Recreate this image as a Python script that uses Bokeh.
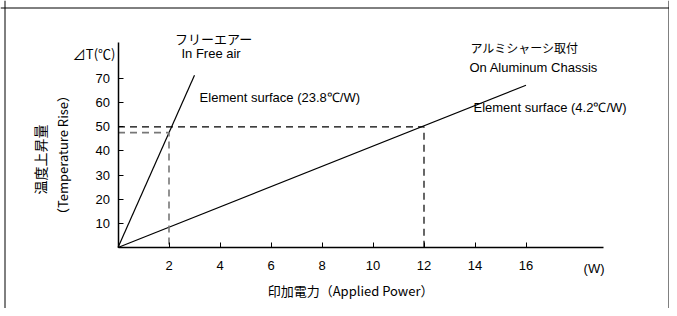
from bokeh.plotting import figure
from bokeh.models import Range1d, FixedTicker, Label, Span
from bokeh.embed import file_html
from bokeh.resources import INLINE
import math

# ---- data ----
free_air_power = [0, 3.0]
free_air_temp = [0, 71.4]          # 23.8 C/W
alu_power = [0, 16.0]
alu_temp = [0, 67.2]               # 4.2 C/W

ref_black_x = [0, 12, 12]          # dashed guide at 50 C / 12 W
ref_black_y = [50, 50, 0]
ref_gray_x = [0, 2, 2]             # dashed guide at 47.6 C / 2 W
ref_gray_y = [47.6, 47.6, 0]

x_ticks = [2, 4, 6, 8, 10, 12, 14, 16]
y_ticks = [10, 20, 30, 40, 50, 60, 70]
x_axis_end = 19.05
y_axis_end = 85

JP = "Noto Sans CJK JP"
LAT = "Liberation Sans"

W, H = 669, 308
PX_X, PX_Y = 25.5, 2.414
X0 = -117.5 / PX_X
X1 = X0 + W / PX_X
Y1 = 247 / PX_Y
Y0 = Y1 - H / PX_Y

p = figure(width=W, height=H, output_backend="svg", toolbar_location=None,
           x_range=Range1d(X0, X1), y_range=Range1d(Y0, Y1),
           min_border_left=0, min_border_right=0, min_border_top=0,
           min_border_bottom=0)
p.outline_line_color = None
p.grid.visible = False
p.background_fill_color = "white"
p.border_fill_color = "white"

for ax, ticks, end in ((p.xaxis[0], x_ticks, x_axis_end), (p.yaxis[0], y_ticks, y_axis_end)):
    ax.fixed_location = 0
    ax.bounds = (0, end)
    ax.ticker = FixedTicker(ticks=ticks)
    ax.major_tick_in = 5
    ax.major_tick_out = 0
    ax.minor_tick_in = 0
    ax.minor_tick_out = 0
    ax.axis_line_color = "black"
    ax.axis_line_width = 1.5
    ax.major_tick_line_color = "black"
    ax.major_label_text_font = LAT
    ax.major_label_text_font_size = "13px"
    ax.major_label_text_color = "black"
p.xaxis[0].major_label_standoff = 13
p.yaxis[0].major_label_standoff = 8

# outer frame (left, right, top)
for loc, dim in ((X0 + 4.5 / PX_X, "height"), (X1 - 0.5 / PX_X, "height"), (Y1 - 7.5 / PX_Y, "width")):
    p.add_layout(Span(location=loc, dimension=dim, line_color="black", line_width=1))

p.line(free_air_power, free_air_temp, line_color="black", line_width=1.2)
p.line(alu_power, alu_temp, line_color="black", line_width=1.2)
p.line(ref_black_x, ref_black_y, line_color="black", line_width=1.2, line_dash="7 5")
p.line(ref_gray_x, ref_gray_y, line_color="#777777", line_width=1.6, line_dash="7 5")

def lab(x, y, text, font=LAT, size="13px", align="left", angle=0, style="normal"):
    p.add_layout(Label(x=x, y=y, text=text, text_font=font, text_font_size=size,
                       text_align=align, text_baseline="middle", angle=angle,
                       text_color="black", text_font_style=style))

lab(-0.1, 80.4, "⊿T(℃)", font=JP, size="13px", align="right")
lab(3.75, 86.4, "フリーエアー", font=JP, size="13px", align="center")
lab(3.65, 80.4, "In Free air", size="13px", align="center")
lab(3.2, 62.1, "Element surface (23.8℃/W)", size="13px")
lab(13.82, 82.8, "アルミシャーシ取付", font=JP, size="12px")
lab(13.78, 74.6, "On Aluminum Chassis", size="13px")
lab(13.94, 58.0, "Element surface (4.2℃/W)", size="13px")
lab(18.67, -8.7, "(W)", size="13px", align="center")
lab(9.12, -17.8, "印加電力（Applied Power）", font=JP, size="13px", align="center")
lab(-3.04, 36.5, "温度上昇量", font=JP, size="14px", align="center", angle=math.pi / 2)
lab(-2.18, 38.3, "（Temperature Rise）", font=JP, size="13px", align="center", angle=math.pi / 2)

open("out.html", "w").write(file_html(p, INLINE))
